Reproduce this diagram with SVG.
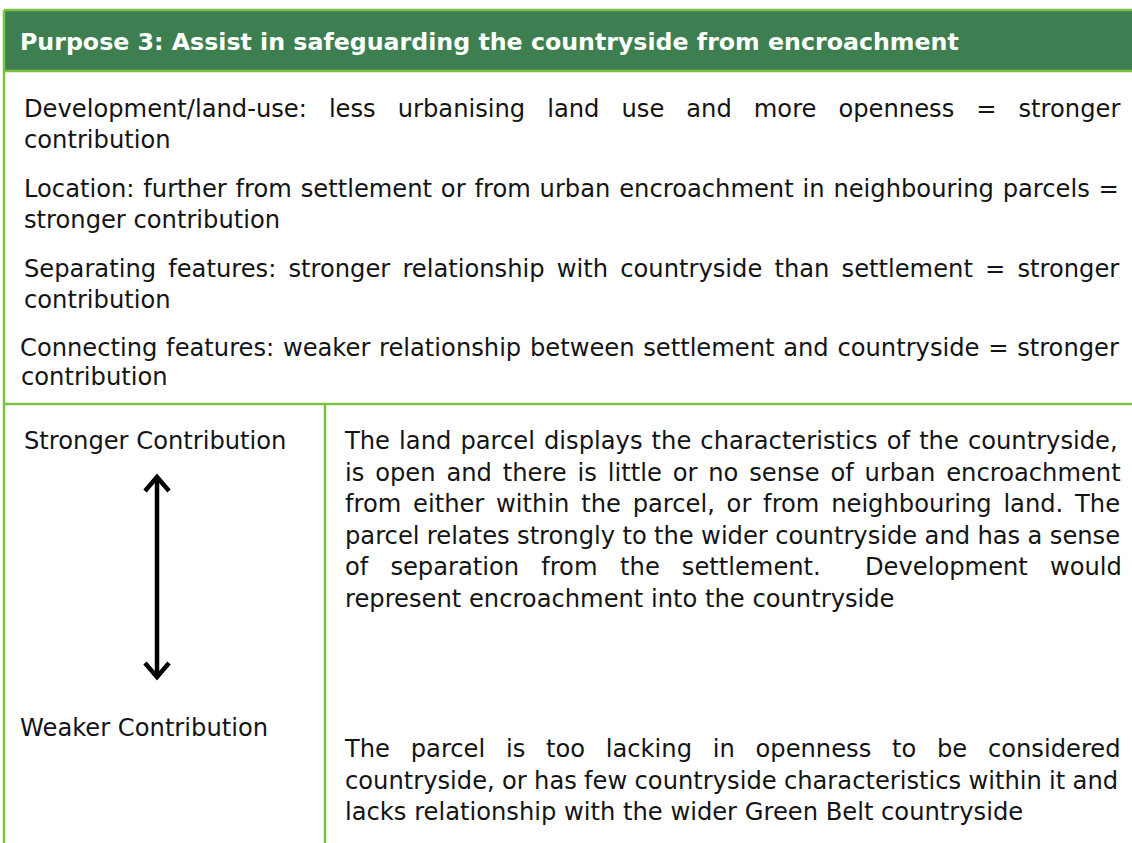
<svg xmlns="http://www.w3.org/2000/svg" width="1132" height="843" viewBox="0 0 1132 843">
<style>
.t{font-family:"DejaVu Sans","Verdana",sans-serif;font-size:24.2px;fill:#141414}
.h{font-family:"DejaVu Sans","Verdana",sans-serif;font-size:23.7px;font-weight:bold;fill:#fff}
.b{stroke:#7cc143;stroke-width:2.5;fill:none}
.ar{stroke:#000;stroke-width:4.5;fill:none}
</style>
<defs>
<marker id="chev" markerUnits="userSpaceOnUse" markerWidth="40" markerHeight="40" viewBox="-20 -20 40 40" refX="0" refY="0" orient="auto-start-reverse" overflow="visible">
<path d="M-14,-12 L0,0 L-14,12" stroke="#000" stroke-width="4.5" fill="none" stroke-linejoin="miter"/>
</marker>
</defs>
<rect width="1132" height="843" fill="#fff"/>
<g id="header">
<rect x="4" y="10" width="1128" height="61" fill="#3d7f50"/>
<text class="h" x="20" y="50">Purpose 3: Assist in safeguarding the countryside from encroachment</text>
</g>
<g id="borders">
<line class="b" x1="4" y1="10" x2="1132" y2="10"/>
<line class="b" x1="4" y1="71" x2="1132" y2="71"/>
<line class="b" x1="4" y1="10" x2="4" y2="843"/>
<line class="b" x1="4" y1="404" x2="1132" y2="404"/>
<line class="b" x1="325" y1="404" x2="325" y2="843"/>
</g>
<g id="criteria">
<text class="t" x="24" y="117" style="word-spacing:14.32px">Development/land-use: less urbanising land use and more openness = stronger</text>
<text class="t" x="24" y="148">contribution</text>
<text class="t" x="24" y="197" style="word-spacing:1.16px">Location: further from settlement or from urban encroachment in neighbouring parcels =</text>
<text class="t" x="24" y="228">stronger contribution</text>
<text class="t" x="24" y="277" style="word-spacing:4.47px">Separating features: stronger relationship with countryside than settlement = stronger</text>
<text class="t" x="24" y="308">contribution</text>
<text class="t" x="20" y="356" style="word-spacing:1.01px">Connecting features: weaker relationship between settlement and countryside = stronger</text>
<text class="t" x="21" y="385">contribution</text>
</g>
<g id="scale-labels">
<text class="t" x="24" y="449">Stronger Contribution</text>
<text class="t" x="20" y="736">Weaker Contribution</text>
</g>
<g id="stronger-description">
<text class="t" x="345" y="449" style="word-spacing:1.41px">The land parcel displays the characteristics of the countryside,</text>
<text class="t" x="345" y="480.5" style="word-spacing:3.17px">is open and there is little or no sense of urban encroachment</text>
<text class="t" x="345" y="512" style="word-spacing:4.08px">from either within the parcel, or from neighbouring land. The</text>
<text class="t" x="345" y="543.5" style="word-spacing:-0.32px">parcel relates strongly to the wider countryside and has a sense</text>
<text class="t" y="575"><tspan x="345">of</tspan><tspan x="390.4">separation</tspan><tspan x="541.2">from</tspan><tspan x="620.1">the</tspan><tspan x="681.8">settlement.</tspan><tspan x="865">Development</tspan><tspan x="1049.9">would</tspan></text>
<text class="t" x="345" y="606.5">represent encroachment into the countryside</text>
</g>
<g id="weaker-description">
<text class="t" x="345" y="757" style="word-spacing:13.03px">The parcel is too lacking in openness to be considered</text>
<text class="t" x="345" y="788.5" style="word-spacing:-0.40px">countryside, or has few countryside characteristics within it and</text>
<text class="t" x="345" y="820">lacks relationship with the wider Green Belt countryside</text>
</g>
<g id="connectors">
<line class="ar" x1="157" y1="477" x2="157" y2="677" marker-start="url(#chev)" marker-end="url(#chev)"/>
</g>
</svg>
